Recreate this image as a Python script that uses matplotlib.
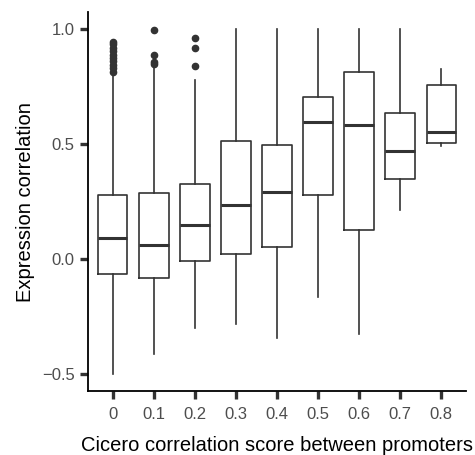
import matplotlib
matplotlib.use("Agg")
import matplotlib.pyplot as plt

plt.rcParams["font.family"] = ["Liberation Sans", "DejaVu Sans"]

# ── data ─────────────────────────────────────────────────────────────────────
categories = ["0", "0.1", "0.2", "0.3", "0.4", "0.5", "0.6", "0.7", "0.8"]
q1      = [-0.064, -0.080, -0.009, 0.022, 0.054, 0.278, 0.125, 0.349, 0.504]
medians = [0.092, 0.064, 0.147, 0.237, 0.291, 0.596, 0.584, 0.469, 0.552]
q3      = [0.280, 0.289, 0.327, 0.516, 0.498, 0.706, 0.814, 0.635, 0.757]
whislo  = [-0.500, -0.411, -0.300, -0.280, -0.344, -0.164, -0.326, 0.212, 0.491]
whishi  = [0.795, 0.838, 0.780, 1.000, 1.000, 1.000, 1.000, 1.000, 0.827]
fliers  = [
    [0.815, 0.83, 0.845, 0.86, 0.875, 0.89, 0.905, 0.92, 0.935, 0.943],
    [0.847, 0.856, 0.886, 0.998],
    [0.841, 0.918, 0.962],
    [], [], [], [], [], [],
]

stats = []
for i, name in enumerate(categories):
    stats.append({
        "label": name, "q1": q1[i], "med": medians[i], "q3": q3[i],
        "whislo": whislo[i], "whishi": whishi[i], "fliers": fliers[i],
    })

fig = plt.figure(figsize=(4.75, 4.55), dpi=100)
ax = fig.add_axes([0.1853, 0.1396, 0.7957, 0.834])

line_col = "#333333"
ax.bxp(stats, positions=range(1, len(categories) + 1), widths=0.72,
       boxprops=dict(color=line_col, linewidth=1.2),
       whiskerprops=dict(color=line_col, linewidth=1.2),
       capprops=dict(linewidth=0),
       medianprops=dict(color=line_col, linewidth=2.2),
       flierprops=dict(marker="o", markersize=4.5, markerfacecolor=line_col,
                       markeredgecolor=line_col, linestyle="none"),
       showcaps=False)

ax.set_xlim(0.4, 9.6)
ax.set_ylim(-0.575, 1.075)
ax.set_yticks([-0.5, 0.0, 0.5, 1.0])
ax.set_yticklabels(["\u22120.5", "0.0", "0.5", "1.0"])
ax.set_xticklabels(categories)

for side in ["top", "right"]:
    ax.spines[side].set_visible(False)
for side in ["left", "bottom"]:
    ax.spines[side].set_color("black")
    ax.spines[side].set_linewidth(1.3)

ax.tick_params(axis="both", length=5.5, width=2.4, color=line_col,
               labelsize=12, labelcolor="#4d4d4d", pad=4)
ax.tick_params(axis="x", pad=5.5)

ax.set_xlabel("Cicero correlation score between promoters", fontsize=14.5,
              color="black", labelpad=10.5)
ax.set_ylabel("Expression correlation", fontsize=14.5, color="black",
              labelpad=5)

plt.savefig("out.png", dpi=100)
